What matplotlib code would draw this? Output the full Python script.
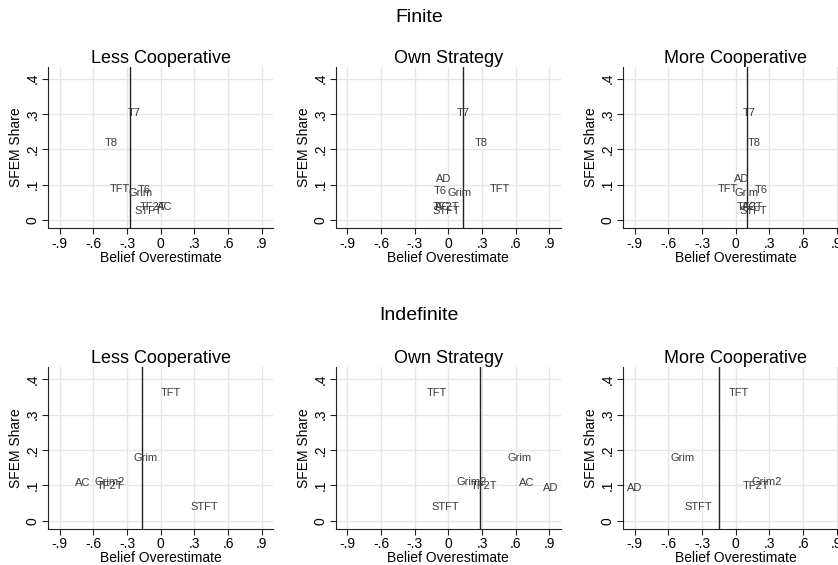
import matplotlib
matplotlib.use("Agg")
import matplotlib.pyplot as plt

plt.rcParams['font.family'] = ['Liberation Sans', 'DejaVu Sans']

panel_titles = ["Less Cooperative", "Own Strategy", "More Cooperative"]
row_titles = ["Finite", "Indefinite"]

# finite
fin_less_lab = ["T7", "T8", "TFT", "Grim", "T6", "TF2T", "AC", "STFT"]
fin_less_x = [-0.29, -0.50, -0.45, -0.29, -0.20, -0.19, -0.03, -0.235]
fin_less_y = [0.302, 0.218, 0.088, 0.076, 0.086, 0.036, 0.036, 0.027]

fin_own_lab = ["T7", "T8", "AD", "T6", "Grim", "TFT", "TF2T", "AC", "STFT"]
fin_own_x = [0.074, 0.234, -0.113, -0.133, -0.009, 0.367, -0.142, -0.12, -0.142]
fin_own_y = [0.302, 0.218, 0.117, 0.083, 0.076, 0.088, 0.038, 0.036, 0.027]

fin_more_lab = ["T7", "T8", "AD", "TFT", "Grim", "T6", "TF2T", "AC", "STFT"]
fin_more_x = [0.059, 0.109, -0.015, -0.163, -0.009, 0.171, 0.006, 0.06, 0.036]
fin_more_y = [0.302, 0.218, 0.117, 0.088, 0.076, 0.086, 0.038, 0.036, 0.027]

# indefinite
ind_less_lab = ["TFT", "Grim", "AC", "Grim2", "TF2T", "STFT"]
ind_less_x = [0.003, -0.244, -0.76, -0.59, -0.57, 0.267]
ind_less_y = [0.362, 0.178, 0.106, 0.111, 0.099, 0.038]

ind_own_lab = ["TFT", "Grim", "Grim2", "TF2T", "AC", "AD", "STFT"]
ind_own_x = [-0.193, 0.524, 0.074, 0.198, 0.627, 0.84, -0.148]
ind_own_y = [0.362, 0.178, 0.111, 0.099, 0.106, 0.093, 0.038]

ind_more_lab = ["TFT", "Grim", "AD", "TF2T", "Grim2", "STFT"]
ind_more_x = [-0.065, -0.577, -0.968, 0.059, 0.139, -0.459]
ind_more_y = [0.362, 0.178, 0.093, 0.099, 0.111, 0.038]

fin_vline = [-0.27, 0.13, 0.10]
ind_vline = [-0.17, 0.28, -0.15]

xticks = [-0.9, -0.6, -0.3, 0, 0.3, 0.6, 0.9]
xticklabels = ["-.9", "-.6", "-.3", "0", ".3", ".6", ".9"]
yticks = [0, 0.1, 0.2, 0.3, 0.4]
yticklabels = ["0", ".1", ".2", ".3", ".4"]

panels = [
    [(fin_less_lab, fin_less_x, fin_less_y), (fin_own_lab, fin_own_x, fin_own_y),
     (fin_more_lab, fin_more_x, fin_more_y)],
    [(ind_less_lab, ind_less_x, ind_less_y), (ind_own_lab, ind_own_x, ind_own_y),
     (ind_more_lab, ind_more_x, ind_more_y)],
]
vlines = [fin_vline, ind_vline]

W, H = 838, 565
fig = plt.figure(figsize=(W / 100, H / 100), dpi=100)

col_left = [48.3, 336, 623.3]
ax_w = 224.7
row_top = [66.7, 367.3]
ax_h = 161.6

for r in range(2):
    for c in range(3):
        ax = fig.add_axes([col_left[c] / W, 1 - (row_top[r] + ax_h) / H, ax_w / W, ax_h / H])
        labs, xs, ys = panels[r][c]
        ax.set_xlim(-1.0, 1.0)
        ax.set_ylim(-0.023, 0.434)
        ax.set_xticks(xticks)
        ax.set_xticklabels(xticklabels, fontsize=10)
        ax.set_yticks(yticks)
        ax.set_yticklabels(yticklabels, fontsize=10, rotation=90, va='center')
        ax.grid(True, color='#e6e6e6', linewidth=1)
        ax.set_axisbelow(True)
        for s in ['top', 'right']:
            ax.spines[s].set_visible(False)
        ax.spines['left'].set_color('#222222')
        ax.spines['bottom'].set_color('#222222')
        ax.tick_params(length=4, width=0.8, color='#222222', pad=2)
        ax.axvline(vlines[r][c], color='#222222', linewidth=1)
        for lab, x, y in zip(labs, xs, ys):
            ax.text(x, y, lab, fontsize=8, color='#3a3a3a', ha='left', va='center')
        ax.set_title(panel_titles[c], fontsize=13, pad=2)
        ax.set_xlabel("Belief Overestimate", fontsize=10, labelpad=0)
        ax.set_ylabel("SFEM Share", fontsize=10, labelpad=2)

fig.text(419 / W, 1 - 17 / H, row_titles[0], fontsize=14, ha='center', va='center')
fig.text(419 / W, 1 - 315 / H, row_titles[1], fontsize=14, ha='center', va='center')

fig.savefig("out.png", dpi=100, facecolor='white')
